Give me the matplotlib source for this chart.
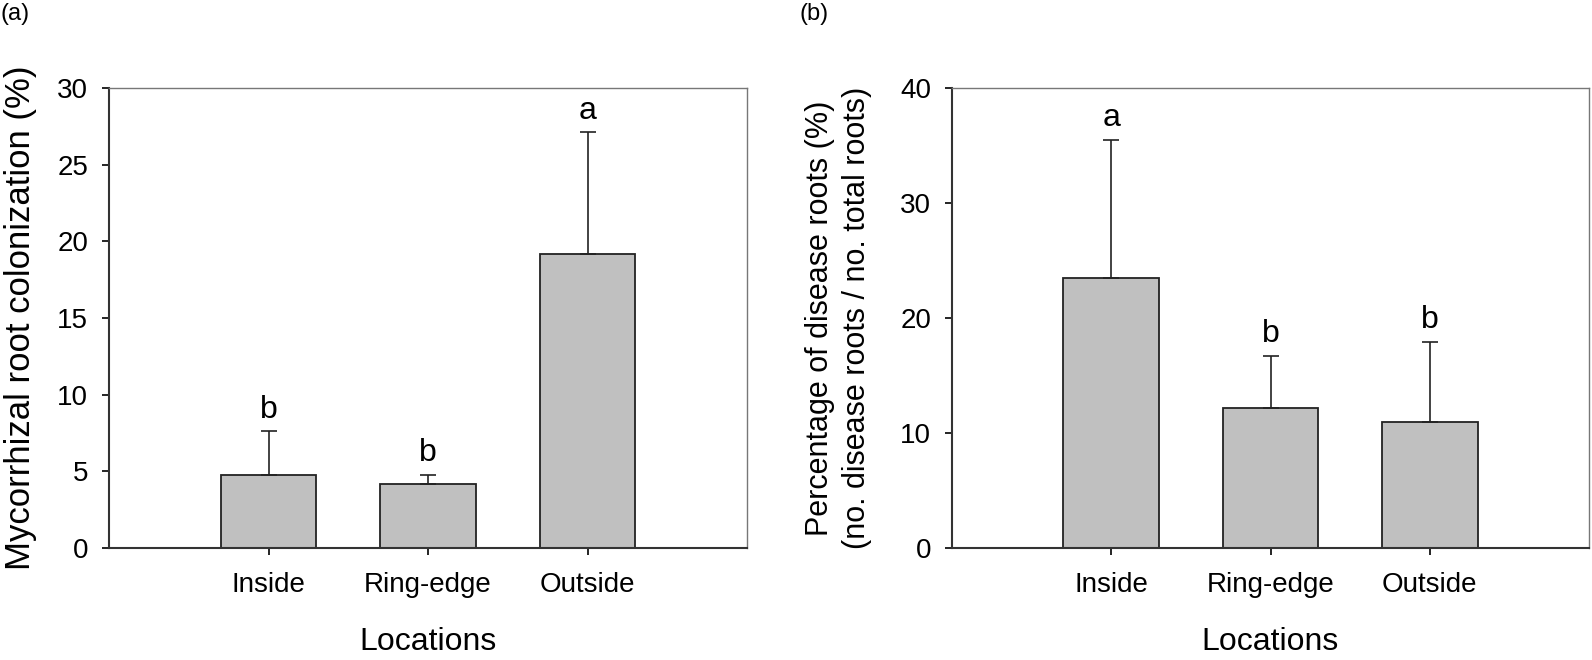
import matplotlib.pyplot as plt
import numpy as np

plt.rcParams['font.family'] = ['Liberation Sans', 'DejaVu Sans']

locations = ["Inside", "Ring-edge", "Outside"]

# (a) mycorrhizal root colonization
myco_mean = [4.75, 4.2, 19.2]
myco_err = [2.85, 0.55, 7.9]
myco_letters = ["b", "b", "a"]

# (b) disease roots
disease_mean = [23.5, 12.2, 11.0]
disease_err = [12.0, 4.5, 6.9]
disease_letters = ["a", "b", "b"]

fig = plt.figure(figsize=(15.92, 6.6), dpi=100)
ax_a = fig.add_axes([109 / 1592, 112 / 660, 638 / 1592, 460 / 660])
ax_b = fig.add_axes([952 / 1592, 112 / 660, 637 / 1592, 460 / 660])

x = np.arange(1, len(locations) + 1)


def draw_panel(ax, means, errs, letters, ymax, ystep, ylabel, label_fs, label_x):
    ax.bar(x, means, width=0.6, color="#c0c0c0", edgecolor="#222222", linewidth=1.3, zorder=2)
    ax.errorbar(x, means, yerr=[np.zeros(len(means)), errs], fmt="none",
                ecolor="#222222", elinewidth=1.2, capsize=6, capthick=1.2, zorder=3)
    for xi, m, e, lt in zip(x, means, errs, letters):
        ax.text(xi, m + e + ymax * 0.015, lt, ha="center", va="bottom", fontsize=23)
    ax.set_xlim(0, 4)
    ax.set_ylim(0, ymax)
    ax.set_yticks(np.arange(0, ymax + 0.1, ystep))
    ax.set_xticks(x)
    ax.set_xticklabels(locations, fontsize=20)
    ax.tick_params(axis="y", labelsize=20, direction="out", length=5, width=1.2, pad=10)
    ax.tick_params(axis="x", direction="out", length=5, width=1.2, pad=12)
    for side in ["left", "bottom"]:
        ax.spines[side].set_color("#333333")
        ax.spines[side].set_linewidth(1.5)
    for side in ["top", "right"]:
        ax.spines[side].set_color("#777777")
        ax.spines[side].set_linewidth(1.0)
    ax.set_xlabel("Locations", fontsize=23, va="center")
    ax.xaxis.set_label_coords(0.5, -0.204)
    ax.set_ylabel(ylabel, fontsize=label_fs, va="center", linespacing=1.3)
    ax.yaxis.set_label_coords(label_x, 0.5)


draw_panel(ax_a, myco_mean, myco_err, myco_letters, 30, 5,
           "Mycorrhizal root colonization (%)", 25, -0.138)
draw_panel(ax_b, disease_mean, disease_err, disease_letters, 40, 10,
           "Percentage of disease roots (%)\n(no. disease roots / no. total roots)", 22, -0.178)

fig.text(0.0, 0.995, "(a)", fontsize=17, ha="left", va="top")
fig.text(800 / 1592, 0.995, "(b)", fontsize=17, ha="left", va="top")

fig.savefig("out.png", dpi=100)
